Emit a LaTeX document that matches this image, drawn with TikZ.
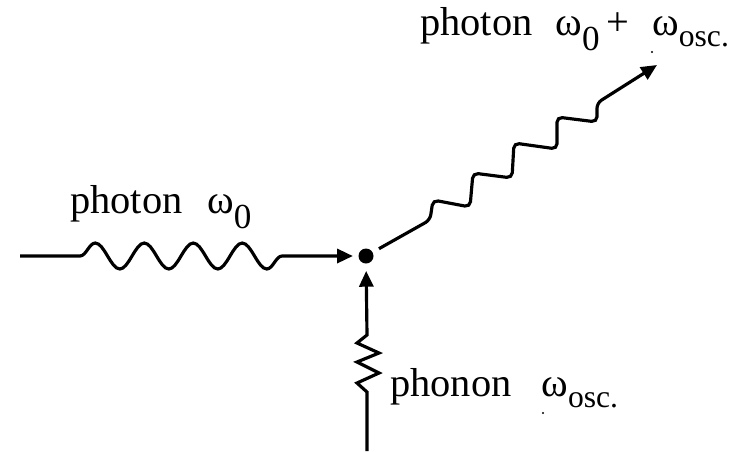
\documentclass[tikz,border=0pt]{standalone}
\usepackage{fontspec}
\setmainfont{Liberation Serif}
\usetikzlibrary{arrows.meta, decorations.pathmorphing}

\newcommand{\subzero}{\raisebox{-9pt}{\fontsize{20}{20}\selectfont 0}}
\newcommand{\subosc}{\raisebox{-6.5pt}{\fontsize{18}{18}\selectfont osc.}}

\begin{document}
\begin{tikzpicture}[
        x=0.02cm, y=-0.02cm,
        vertex/.style={circle, fill=black, inner sep=0pt, minimum size=0.3cm},
        arrow/.style={line width=1.8pt, -{Triangle[length=9pt, width=8pt]}},
        wave/.style={decorate, decoration={snake, segment length=0.98cm, amplitude=0.26cm, pre length=1.2cm, post length=1.35cm}},
        lbl/.style={anchor=base west, inner sep=0pt, font=\fontsize{23}{27}\selectfont}
        ]
        \useasboundingbox (0,0) rectangle (754,451);

        \node[vertex] (vtx) at (366,256) {};
        \coordinate (inphoton) at (20,256);
        \coordinate (outphoton) at (657,65);
        \coordinate (phononstart) at (367,451);

        % incoming photon
        \draw[arrow, wave, shorten >=3pt] (inphoton) -- (vtx);

        % scattered photon
        \draw[arrow, rounded corners=3pt, shorten <=4pt] (vtx) -- (430,220) -- (433,200) -- (470,207) -- (473,173)
            -- (512,178) -- (514,143) -- (557,149) -- (557,117) -- (597,122) -- (597,103) -- (outphoton);

        % phonon
        \draw[arrow, shorten >=4pt] (phononstart) -- (367,392) -- (357,383) -- (379,373) -- (357,362)
            -- (379,353) -- (357,343) -- (367,335) -- (vtx);

        \node[lbl] (lblin) at (70,213) {photon\hspace{14pt}ω\subzero};
        \node[lbl] (lblout) at (420,35) {photon\hspace{13pt}ω\subzero\hspace{4pt}+\hspace{13pt}ω\subosc};
        \node[lbl] (lblphonon) at (390,396) {phonon\hspace{17pt}ω\subosc};

        \fill (652,52) circle (1.2);
        \fill (543,413) circle (1.2);
\end{tikzpicture}
\end{document}
